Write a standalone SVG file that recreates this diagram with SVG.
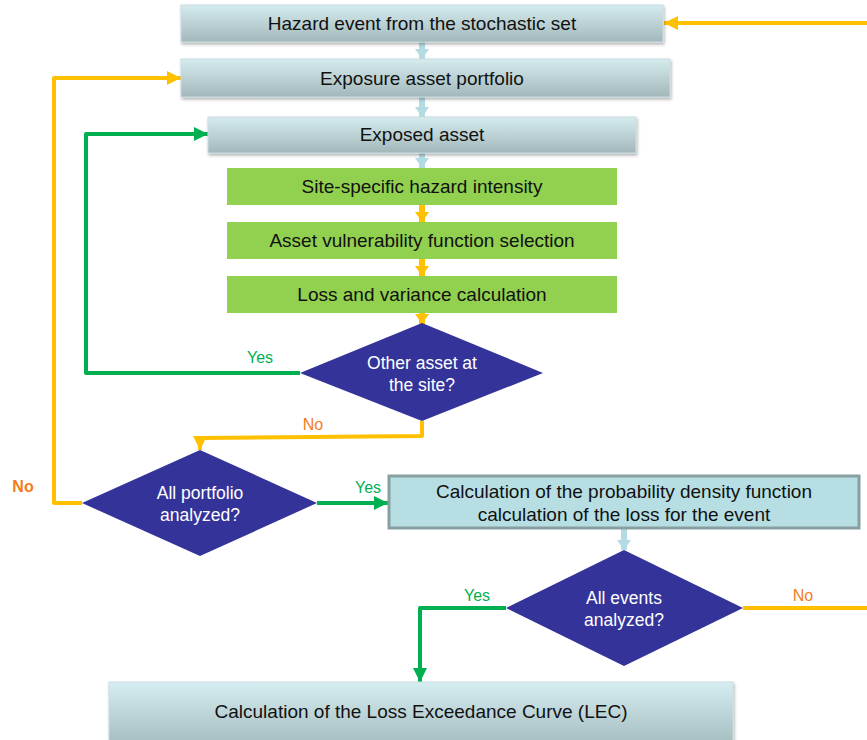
<svg xmlns="http://www.w3.org/2000/svg" width="867" height="740" viewBox="0 0 867 740">
<defs>
<linearGradient id="gb" x1="0" y1="0" x2="0" y2="1">
<stop offset="0" stop-color="#d5ecef"/>
<stop offset="1" stop-color="#a2b7ba"/>
</linearGradient>
<linearGradient id="gl" x1="0" y1="0" x2="0" y2="1">
<stop offset="0" stop-color="#d5eef1"/>
<stop offset="1" stop-color="#a6bdc0"/>
</linearGradient>
<filter id="sh" x="-5%" y="-20%" width="110%" height="150%">
<feDropShadow dx="1" dy="2" stdDeviation="1.5" flood-color="#000" flood-opacity="0.3"/>
</filter>
<marker id="ao" markerUnits="userSpaceOnUse" markerWidth="16" markerHeight="16" refX="14" refY="8" orient="auto">
<path d="M0,1 L14,8 L0,15 Z" fill="#ffc000"/>
</marker>
<marker id="ag" markerUnits="userSpaceOnUse" markerWidth="16" markerHeight="16" refX="14" refY="8" orient="auto">
<path d="M0,1 L14,8 L0,15 Z" fill="#00b050"/>
</marker>
<marker id="ab" markerUnits="userSpaceOnUse" markerWidth="16" markerHeight="16" refX="10" refY="8" orient="auto">
<path d="M0,1 L10,8 L0,15 Z" fill="#b4dbe3"/>
</marker>
<marker id="aos" markerUnits="userSpaceOnUse" markerWidth="16" markerHeight="16" refX="10" refY="8" orient="auto">
<path d="M0,1 L10,8 L0,15 Z" fill="#ffc000"/>
</marker>
</defs>
<style>
.box{fill:url(#gb);stroke:#c9dcdf;stroke-width:1;filter:url(#sh)}
.grn{fill:#92d050}
.dia{fill:#333399}
.t{font-family:"Liberation Sans",Arial,sans-serif;font-size:19px;fill:#111;text-anchor:middle}
.tw{font-family:"Liberation Sans",Arial,sans-serif;font-size:17.5px;fill:#fff;text-anchor:middle}
.lg{font-family:"Liberation Sans",Arial,sans-serif;font-size:16px;fill:#00b050;text-anchor:middle}
.lo{font-family:"Liberation Sans",Arial,sans-serif;font-size:16px;fill:#f47c20;text-anchor:middle}
.co{fill:none;stroke:#ffc000;stroke-width:4;stroke-linejoin:round}
.cg{fill:none;stroke:#00b050;stroke-width:4;stroke-linejoin:round}
.cb{fill:none;stroke:#b4dbe3;stroke-width:6}
.cos{fill:none;stroke:#ffc000;stroke-width:6}
</style>

<g id="connectors">
<path class="cb" d="M422,42 L422,59" marker-end="url(#ab)"/>
<path class="cb" d="M422,97 L422,117" marker-end="url(#ab)"/>
<path class="cb" d="M422,153 L422,168" marker-end="url(#ab)"/>
<path class="cos" d="M422,205 L422,222" marker-end="url(#aos)"/>
<path class="cos" d="M422,259 L422,276" marker-end="url(#aos)"/>
<path class="cos" d="M422,313 L422,324" marker-end="url(#aos)"/>
<path class="cb" d="M624,529 L624,550" marker-end="url(#ab)"/>
<path class="co" d="M867,23 L664,23" marker-end="url(#ao)"/>
<path class="cg" d="M300,373 L86,373 L86,134 L208,134" marker-end="url(#ag)"/>
<path class="co" d="M422,421 L422,436 L200,438 L200,450" marker-end="url(#ao)"/>
<path class="co" d="M82,503 L54,503 L54,78 L181,78" marker-end="url(#ao)"/>
<path class="cg" d="M317,503 L388,503" marker-end="url(#ag)"/>
<path class="cg" d="M506,608 L420,608 L420,682" marker-end="url(#ag)"/>
<path class="co" d="M743,608 L867,608"/>
<text class="lg" x="260" y="363">Yes</text>
<text class="lo" x="313" y="430">No</text>
<text class="lo" x="23" y="492" style="font-weight:bold">No</text>
<text class="lg" x="368" y="493">Yes</text>
<text class="lg" x="477" y="601">Yes</text>
<text class="lo" x="803" y="601">No</text>
</g>

<g id="n1"><rect class="box" x="181" y="5" width="482" height="37"/><text class="t" x="422" y="30">Hazard event from the stochastic set</text></g>
<g id="n2"><rect class="box" x="181" y="59" width="489" height="38"/><text class="t" x="422" y="85">Exposure asset portfolio</text></g>
<g id="n3"><rect class="box" x="208" y="117" width="428" height="36"/><text class="t" x="422" y="141">Exposed asset</text></g>
<g id="n4"><rect class="grn" x="227" y="168" width="390" height="37"/><text class="t" x="422" y="193">Site-specific hazard intensity</text></g>
<g id="n5"><rect class="grn" x="227" y="222" width="390" height="37"/><text class="t" x="422" y="247">Asset vulnerability function selection</text></g>
<g id="n6"><rect class="grn" x="227" y="276" width="390" height="37"/><text class="t" x="422" y="301">Loss and variance calculation</text></g>
<g id="d1"><polygon class="dia" points="422,323 543,373 422,421 300,373"/><text class="tw" x="422" y="369">Other asset at</text><text class="tw" x="422" y="391">the site?</text></g>
<g id="d2"><polygon class="dia" points="200,450 317,503 200,556 82,503"/><text class="tw" x="200" y="499">All portfolio</text><text class="tw" x="200" y="521">analyzed?</text></g>
<g id="n7"><rect x="389" y="476" width="470" height="52" fill="#b7dfe3" stroke="#889fa2" stroke-width="3"/><text class="t" x="624" y="498">Calculation of the probability density function</text><text class="t" x="624" y="521">calculation of the loss for the event</text></g>
<g id="d3"><polygon class="dia" points="624,550 743,608 624,666 506,608"/><text class="tw" x="624" y="604">All events</text><text class="tw" x="624" y="626">analyzed?</text></g>
<g id="n8"><rect x="109" y="682" width="624" height="62" fill="url(#gl)" stroke="#c9dcdf" filter="url(#sh)"/><text class="t" x="421" y="718">Calculation of the Loss Exceedance Curve (LEC)</text></g>
</svg>
